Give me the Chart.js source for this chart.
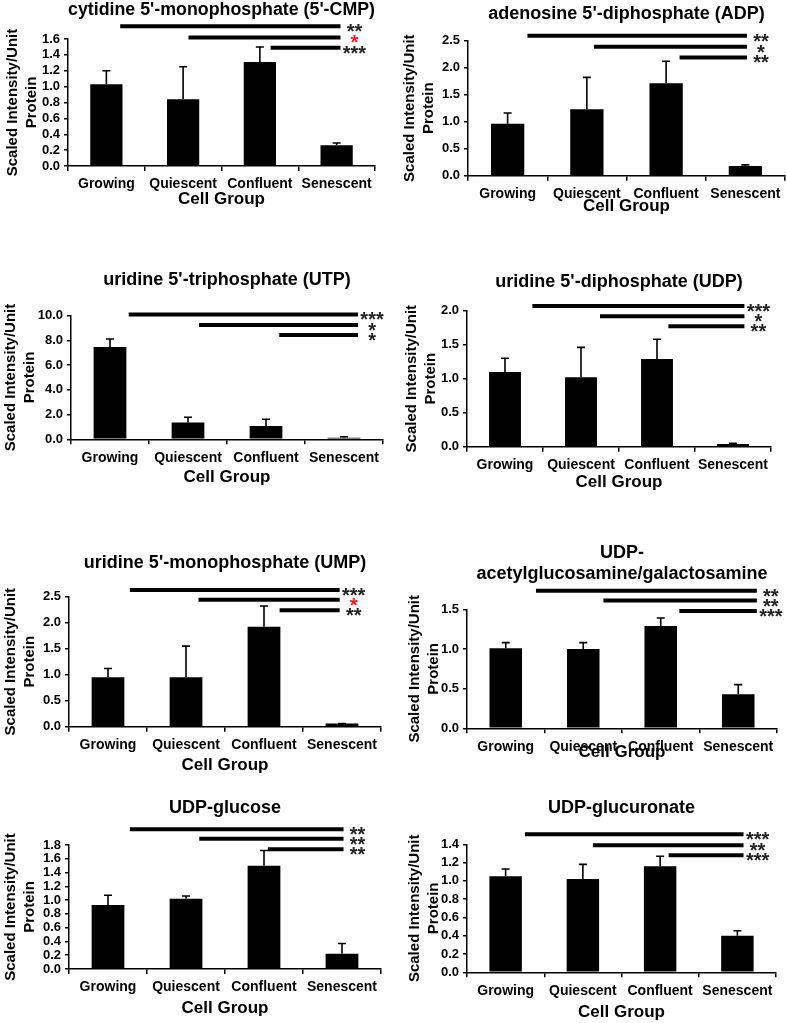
<!DOCTYPE html>
<html>
<head>
<meta charset="utf-8">
<script src="https://cdn.jsdelivr.net/npm/chart.js@4.4.1/dist/chart.umd.min.js"></script>
<style>
  html, body { margin: 0; padding: 0; background: #fff; }
  #page { position: relative; width: 787px; height: 1023px; overflow: hidden; }
  #page canvas { position: absolute; }
</style>
</head>
<body>
<div id="page"></div>
<script>
// ── Data ─────────────────────────────────────────────────────
const categories = ['Growing', 'Quiescent', 'Confluent', 'Senescent'];

// mean and upper error per cell group
const cmpMean = [1.03, 0.84, 1.31, 0.26];
const cmpErr  = [0.17, 0.41, 0.19, 0.03];
const adpMean = [0.96, 1.23, 1.71, 0.18];
const adpErr  = [0.20, 0.59, 0.41, 0.02];
const utpMean = [7.47, 1.35, 1.08, 0.13];
const utpErr  = [0.65, 0.43, 0.54, 0.08];
const udpMean = [1.10, 1.02, 1.29, 0.04];
const udpErr  = [0.20, 0.44, 0.29, 0.01];
const umpMean = [0.95, 0.95, 1.92, 0.06];
const umpErr  = [0.17, 0.60, 0.40, 0.00];
const glcnacMean = [1.01, 1.00, 1.29, 0.43];
const glcnacErr  = [0.07, 0.08, 0.10, 0.12];
const glcMean = [0.93, 1.02, 1.50, 0.22];
const glcErr  = [0.14, 0.04, 0.22, 0.15];
const glcaMean = [1.05, 1.02, 1.16, 0.40];
const glcaErr  = [0.08, 0.16, 0.11, 0.055];

// significance bars: start (category index), end, height (data units), stars
const cmpSigFrom = [0.18, 1.07, 2.14];  const cmpSigTo = 3.05;
const cmpSigY    = [1.76, 1.62, 1.49];  const cmpSigText = ['**', '*', '***'];
const adpSigFrom = [0.25, 1.09, 2.17];  const adpSigTo = 3.02;
const adpSigY    = [2.59, 2.39, 2.19];  const adpSigText = ['**', '*', '**'];
const utpSigFrom = [0.24, 1.14, 2.17];  const utpSigTo = 3.18;
const utpSigY    = [10.1, 9.24, 8.44];  const utpSigText = ['***', '*', '*'];
const udpSigFrom = [0.36, 1.25, 2.15];  const udpSigTo = 3.15;
const udpSigY    = [2.07, 1.92, 1.77];  const udpSigText = ['***', '*', '**'];
const umpSigFrom = [0.28, 1.16, 2.20];  const umpSigTo = 2.97;
const umpSigY    = [2.63, 2.44, 2.24];  const umpSigText = ['***', '*', '**'];
const glcnacSigFrom = [0.39, 1.26, 2.24]; const glcnacSigTo = 3.24;
const glcnacSigY    = [1.735, 1.61, 1.48]; const glcnacSigText = ['**', '**', '***'];
const glcSigFrom = [0.28, 1.17, 2.05];  const glcSigTo = 3.02;
const glcSigY    = [2.03, 1.89, 1.74];  const glcSigText = ['**', '**', '**'];
const glcaSigFrom = [0.25, 1.13, 2.11]; const glcaSigTo = 3.08;
const glcaSigY    = [1.51, 1.39, 1.28]; const glcaSigText = ['***', '**', '***'];

// ── Panels ───────────────────────────────────────────────────
// box: plot area in page px (l = y axis, t = top tick, r = axis end, b = zero line)
const panels = [
  { title: "cytidine 5'-monophosphate (5'-CMP)", mean: cmpMean, err: cmpErr, max: 1.6, step: 0.2,
    sigFrom: cmpSigFrom, sigTo: cmpSigTo, sigY: cmpSigY, sigText: cmpSigText, red: [1],
    box: { l: 68, t: 39, r: 375, b: 166, titleY: 10, labX: 13, groupY: 200 } },
  { title: "adenosine 5'-diphosphate (ADP)", mean: adpMean, err: adpErr, max: 2.5, step: 0.5,
    sigFrom: adpSigFrom, sigTo: adpSigTo, sigY: adpSigY, sigText: adpSigText, red: [],
    box: { l: 468, t: 40.7, r: 785, b: 175.7, titleY: 14, labX: 410, groupY: 207 } },
  { title: "uridine 5'-triphosphate (UTP)", mean: utpMean, err: utpErr, max: 10, step: 2,
    sigFrom: utpSigFrom, sigTo: utpSigTo, sigY: utpSigY, sigText: utpSigText, red: [],
    box: { l: 71, t: 315.7, r: 383, b: 439.3, titleY: 280, labX: 11, groupY: 478 } },
  { title: "uridine 5'-diphosphate (UDP)", mean: udpMean, err: udpErr, max: 2, step: 0.5,
    sigFrom: udpSigFrom, sigTo: udpSigTo, sigY: udpSigY, sigText: udpSigText, red: [],
    box: { l: 467, t: 310.7, r: 771, b: 446.7, titleY: 282, labX: 412, groupY: 483 } },
  { title: "uridine 5'-monophosphate (UMP)", mean: umpMean, err: umpErr, max: 2.5, step: 0.5,
    sigFrom: umpSigFrom, sigTo: umpSigTo, sigY: umpSigY, sigText: umpSigText, red: [1],
    box: { l: 69, t: 596.7, r: 381, b: 726.7, titleY: 563, labX: 11, groupY: 766 } },
  { title: ['UDP-', 'acetylglucosamine/galactosamine'], mean: glcnacMean, err: glcnacErr, max: 1.5, step: 0.5,
    sigFrom: glcnacSigFrom, sigTo: glcnacSigTo, sigY: glcnacSigY, sigText: glcnacSigText, red: [],
    box: { l: 467, t: 609.3, r: 777, b: 728.3, titleY: 553, labX: 415, groupY: 753 } },
  { title: 'UDP-glucose', mean: glcMean, err: glcErr, max: 1.8, step: 0.2,
    sigFrom: glcSigFrom, sigTo: glcSigTo, sigY: glcSigY, sigText: glcSigText, red: [],
    box: { l: 69, t: 845, r: 381, b: 969, titleY: 808, labX: 11, groupY: 1009 } },
  { title: 'UDP-glucuronate', mean: glcaMean, err: glcaErr, max: 1.4, step: 0.2,
    sigFrom: glcaSigFrom, sigTo: glcaSigTo, sigY: glcaSigY, sigText: glcaSigText, red: [],
    box: { l: 467, t: 844.3, r: 776, b: 972.3, titleY: 808, labX: 415, groupY: 1013 } },
];

const FONT = "'Liberation Sans', Arial, Helvetica, sans-serif";
const TITLE_LH = 18 * 1.2;
const YLAB_LH  = 15 * 1.23;
const GROUP_LH = 17 * 1.2;
const PAD_R = 16;

// error bars + significance bars, drawn through the chart's own scales
const makeDecor = (p) => ({
  id: 'decor',
  afterDatasetsDraw(chart) {
    const { ctx, scales: { x, y } } = chart;
    const bars = chart.getDatasetMeta(0).data;
    ctx.save();
    ctx.strokeStyle = '#000';
    ctx.lineWidth = 1.6;
    bars.forEach((bar, i) => {
      const top = y.getPixelForValue(p.mean[i] + p.err[i]);
      ctx.beginPath();
      ctx.moveTo(bar.x, bar.y);
      ctx.lineTo(bar.x, top);
      ctx.moveTo(bar.x - 4, top);
      ctx.lineTo(bar.x + 4, top);
      ctx.stroke();
    });

    const xe = x.getPixelForValue(p.sigTo);
    ctx.lineWidth = 4;
    ctx.font = 'bold 20px ' + FONT;
    ctx.textAlign = 'center';
    ctx.textBaseline = 'alphabetic';
    p.sigFrom.forEach((s, i) => {
      const yy = y.getPixelForValue(p.sigY[i]);
      ctx.beginPath();
      ctx.moveTo(x.getPixelForValue(s), yy);
      ctx.lineTo(xe, yy);
      ctx.stroke();
      ctx.fillStyle = p.red.includes(i) ? '#ee1c24' : '#222';
      ctx.fillText(p.sigText[i], xe + 14, yy + 12);
    });
    ctx.restore();
  },
});

const page = document.getElementById('page');

panels.forEach((p) => {
  const g = p.box;
  const lines = Array.isArray(p.title) ? p.title.length : 1;
  const top = Math.round(g.titleY - TITLE_LH / 2);
  const left = Math.round(g.labX - YLAB_LH / 2);
  const width = Math.round(g.r + PAD_R - left);
  const height = Math.round(g.groupY + GROUP_LH / 2 - top);
  const yW = g.l - left;
  const xH = top + height - g.b;
  const titleGap = g.t - top - lines * TITLE_LH;

  const cv = document.createElement('canvas');
  cv.width = width;
  cv.height = height;
  cv.style.left = left + 'px';
  cv.style.top = top + 'px';
  page.appendChild(cv);

  new Chart(cv.getContext('2d'), {
    type: 'bar',
    data: {
      labels: categories,
      datasets: [{
        data: p.mean,
        backgroundColor: '#000',
        borderWidth: 0,
        barPercentage: 0.42,
        categoryPercentage: 1.0,
      }],
    },
    options: {
      responsive: false,
      animation: false,
      layout: { padding: { left: 0, right: PAD_R, top: 0, bottom: 0 } },
      scales: {
        x: {
          afterFit: (s) => { s.height = xH; },
          grid: { display: true, drawOnChartArea: false, offset: true, tickLength: 5, color: '#000', lineWidth: 1.5 },
          border: { display: true, color: '#000', width: 1.5 },
          ticks: {
            color: '#000',
            font: { family: FONT, size: 14, weight: 'bold' },
            padding: 5,
            maxRotation: 0,
            autoSkip: false,
          },
          title: {
            display: true,
            text: 'Cell Group',
            color: '#000',
            font: { family: FONT, size: 17, weight: 'bold', lineHeight: 1.2 },
            padding: { top: 0, bottom: 0 },
          },
        },
        y: {
          min: 0,
          max: p.max,
          afterFit: (s) => { s.width = yW; },
          grid: { display: true, drawOnChartArea: false, tickLength: 4, color: '#000', lineWidth: 1.5 },
          border: { display: true, color: '#000', width: 1.5 },
          ticks: {
            stepSize: p.step,
            autoSkip: false,
            color: '#000',
            padding: 4,
            font: { family: FONT, size: 13, weight: 'bold' },
            callback: (v) => Number(v).toFixed(1),
          },
          title: {
            display: true,
            text: ['Scaled Intensity/Unit', 'Protein'],
            color: '#000',
            font: { family: FONT, size: 15, weight: 'bold', lineHeight: 1.23 },
            padding: { top: 0, bottom: 0 },
          },
        },
      },
      plugins: {
        legend: { display: false },
        tooltip: { enabled: false },
        title: {
          display: true,
          fullSize: false,
          text: p.title,
          color: '#000',
          font: { family: FONT, size: 18, weight: 'bold', lineHeight: 1.2 },
          padding: { top: 0, bottom: titleGap },
        },
      },
    },
    plugins: [makeDecor(p)],
  });
});
</script>
</body>
</html>
